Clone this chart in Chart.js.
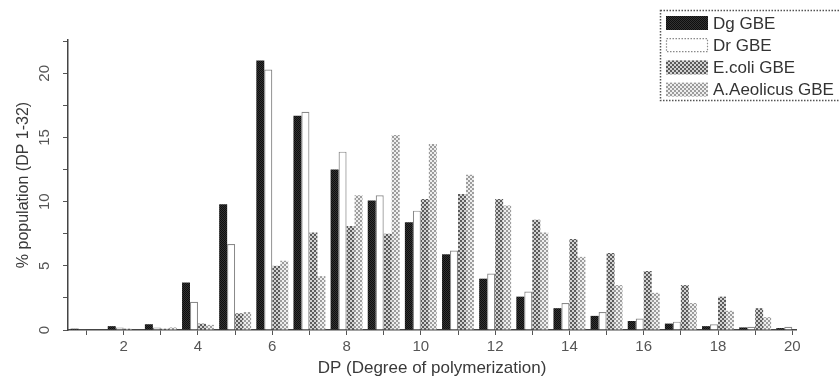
<!DOCTYPE html>
<html>
<head>
<meta charset="utf-8">
<script src="https://cdn.jsdelivr.net/npm/chart.js@4/dist/chart.umd.min.js"></script>
<style>
html,body{margin:0;padding:0;background:#fff;}
#wrap{width:840px;height:385px;position:relative;}
</style>
</head>
<body>
<div id="wrap"><canvas id="c" width="840" height="385"></canvas></div>
<script>
// ---- data ----
const dpCategories = [1,2,3,4,5,6,7,8,9,10,11,12,13,14,15,16,17,18,19,20];
const seriesNames = ['Dg GBE','Dr GBE','E.coli GBE','A.Aeolicus GBE'];
const dgGBE    = [0.1,0.3,0.45,3.7,9.8,21.0,16.7,12.5,10.1,8.4,5.9,4.0,2.6,1.7,1.1,0.7,0.5,0.3,0.2,0.15];
const drGBE    = [0.05,0.2,0.2,2.2,6.7,20.3,17.0,13.9,10.5,9.3,6.2,4.4,3.0,2.1,1.4,0.9,0.65,0.45,0.25,0.25];
const ecoliGBE = [0,0.1,0.1,0.5,1.3,5.0,7.6,8.1,7.5,10.2,10.6,10.2,8.6,7.1,6.0,4.6,3.5,2.6,1.7,0];
const aaeoGBE  = [0,0,0.2,0.4,1.4,5.4,4.2,10.5,15.2,14.5,12.1,9.7,7.6,5.7,3.5,2.9,2.1,1.5,1.0,0];
const xTickLabels = [2,4,6,8,10,12,14,16,18,20];
const yTickLabels = [0,5,10,15,20];
const xAxisTitle = 'DP (Degree of polymerization)';
const yAxisTitle = '% population (DP 1-32)';

// ---- styles ----
function checker(c1, c2, cell) {
  const cv = document.createElement('canvas');
  cv.width = cv.height = cell * 2;
  const g = cv.getContext('2d');
  g.fillStyle = c2; g.fillRect(0, 0, cell * 2, cell * 2);
  g.fillStyle = c1; g.fillRect(0, 0, cell, cell); g.fillRect(cell, cell, cell, cell);
  return g.createPattern(cv, 'repeat');
}
const ctx = document.getElementById('c').getContext('2d');
const fillDg = checker('#0e0e0e', '#333333', 1);
const fillEc = checker('#5c5c5c', '#d2d2d2', 2);
const fillAa = checker('#9c9c9c', '#eeeeee', 2);

const toPoints = vals => dpCategories.map((d, i) => ({x: d, y: vals[i]}));

const styles = [
  {backgroundColor: fillDg, borderColor: '#111', borderWidth: 0},
  {backgroundColor: '#ffffff', borderColor: '#8a8a8a', borderWidth: 1.2},
  {backgroundColor: fillEc, borderColor: '#888', borderWidth: 0},
  {backgroundColor: fillAa, borderColor: '#aaa', borderWidth: 0}
];
const allSeries = [dgGBE, drGBE, ecoliGBE, aaeoGBE];

const datasets = allSeries.map((vals, i) => Object.assign({
  label: seriesNames[i],
  data: toPoints(vals),
  barPercentage: 1.0,
  categoryPercentage: 0.86
}, styles[i]));

const overlay = {
  id: 'overlay',
  afterDraw(chart) {
    const c = chart.ctx;
    const ys = chart.scales.y;
    c.save();
    // rotated y tick labels
    c.fillStyle = '#555';
    c.font = '15px "Liberation Sans", Arial, sans-serif';
    c.textAlign = 'center';
    c.textBaseline = 'middle';
    yTickLabels.forEach(v => {
      const py = ys.getPixelForValue(v);
      c.save();
      c.translate(45, py);
      c.rotate(-Math.PI / 2);
      c.fillText(String(v), 0, 0);
      c.restore();
    });
    // legend
    const lx = 660, ly = 10, lw = 200, lh = 90;
    c.setLineDash([1.5, 1.5]);
    c.strokeStyle = '#555';
    c.lineWidth = 1.5;
    c.strokeRect(lx + 0.5, ly + 0.5, lw, lh);
    c.font = '17px "Liberation Sans", Arial, sans-serif';
    c.textAlign = 'left';
    c.textBaseline = 'middle';
    chart.data.datasets.forEach((ds, i) => {
      const cy = ly + 13 + i * 22.2;
      c.setLineDash([]);
      c.fillStyle = ds.backgroundColor;
      c.fillRect(lx + 6, cy - 7, 42, 14);
      if (ds.borderWidth > 0) {
        c.setLineDash([1.5, 1.5]);
        c.strokeStyle = ds.borderColor;
        c.lineWidth = 1.2;
        c.strokeRect(lx + 6.5, cy - 6.5, 41, 13);
      }
      c.setLineDash([]);
      c.fillStyle = '#333';
      c.fillText(ds.label, lx + 53, cy + 1);
    });
    c.restore();
  }
};

new Chart(ctx, {
  type: 'bar',
  data: {datasets},
  options: {
    responsive: false,
    animation: false,
    layout: {padding: {top: 40, right: 44, left: 0, bottom: 0}},
    plugins: {legend: {display: false}, tooltip: {enabled: false}},
    scales: {
      x: {
        type: 'linear',
        offset: false,
        min: 0.5,
        max: 20.1,
        afterFit(scale) { scale.height = 55; },
        border: {display: true, color: '#444', width: 1.5, dash: [2, 1]},
        grid: {display: true, offset: false, drawOnChartArea: false, drawTicks: true, tickLength: 5, color: '#555'},
        ticks: {
          stepSize: 1,
          includeBounds: false,
          autoSkip: false,
          maxRotation: 0,
          padding: 3,
          color: '#555',
          font: {family: '"Liberation Sans", Arial, sans-serif', size: 15},
          callback: v => xTickLabels.includes(v) ? String(v) : ''
        },
        title: {
          display: true,
          text: xAxisTitle,
          color: '#3a3a3a',
          font: {family: '"Liberation Sans", Arial, sans-serif', size: 17},
          padding: {top: 0, bottom: 6}
        }
      },
      y: {
        min: 0,
        max: 22.6,
        afterFit(scale) { scale.width = 68; },
        border: {display: true, color: '#444', width: 1.5, dash: [2, 1]},
        grid: {display: true, drawOnChartArea: false, drawTicks: true, tickLength: 5, color: '#555'},
        ticks: {
          stepSize: 2.5,
          includeBounds: false,
          autoSkip: false,
          callback: () => ''
        },
        title: {
          display: true,
          text: yAxisTitle,
          color: '#3a3a3a',
          font: {family: '"Liberation Sans", Arial, sans-serif', size: 16},
          padding: {top: 14, bottom: 0}
        }
      }
    }
  },
  plugins: [overlay]
});
</script>
</body>
</html>
